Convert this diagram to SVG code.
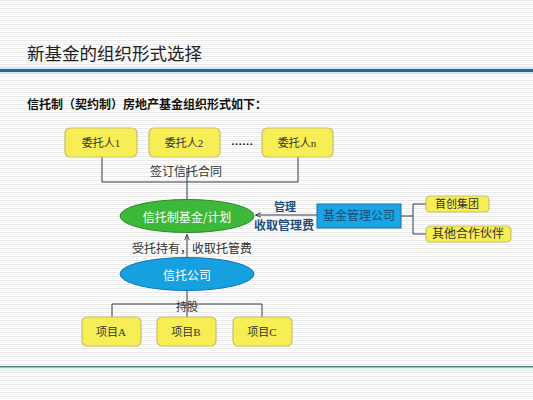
<svg xmlns="http://www.w3.org/2000/svg" width="533" height="400" viewBox="0 0 533 400">
<defs>
<pattern id="stripes" width="8" height="4" patternUnits="userSpaceOnUse">
<rect width="8" height="4" fill="#ffffff"/>
<rect y="0" width="8" height="1" fill="#e9e9e9"/>
<rect y="2" width="8" height="1" fill="#f4f4f4"/>
</pattern>
<marker id="arr" viewBox="0 0 10 10" refX="9" refY="5" markerWidth="6" markerHeight="6" orient="auto">
<path d="M0,1 L10,5 L0,9" fill="none" stroke="#333" stroke-width="1.5"/>
</marker>
</defs>
<style>
.ybox{fill:#f7ee55;stroke:#c9bf6a;stroke-width:1.2}
.t{font-family:"Liberation Serif","Noto Sans CJK SC",serif;font-size:11px;fill:#333;text-anchor:middle;dominant-baseline:central}
.t12{font-size:12px}
.w{font-family:"Noto Sans CJK SC",sans-serif;font-size:12px;fill:#ffffff;text-anchor:middle;dominant-baseline:central}
.ln{fill:none;stroke:#2f3a4a;stroke-width:1}
.lbl{font-family:"Noto Sans CJK SC",sans-serif;font-size:12px;fill:#1f4e79;font-weight:bold;text-anchor:middle;dominant-baseline:central}
</style>
<rect width="533" height="400" fill="url(#stripes)"/>
<text x="27" y="52" font-family="Noto Sans CJK SC, sans-serif" font-size="17.5" fill="#222" dominant-baseline="central">新基金的组织形式选择</text>
<rect x="0" y="67" width="533" height="7" fill="#cfe6f5"/>
<rect x="0" y="69" width="533" height="3" fill="#2d6590"/>
<text x="27" y="103" font-family="Noto Sans CJK SC, sans-serif" font-size="12" font-weight="bold" fill="#111" dominant-baseline="central">信托制（契约制）房地产基金组织形式如下：</text>
<rect x="0" y="366" width="533" height="1.5" fill="#4f7f78"/>
<rect x="0" y="368" width="533" height="3" fill="#e2f3ee"/>

<g id="connectors">
<polyline class="ln" points="102,157 102,182 298,182 298,157"/>
<line class="ln" x1="187" y1="168" x2="187" y2="200"/>
<line class="ln" x1="317" y1="215" x2="256" y2="215" marker-end="url(#arr)"/>
<line class="ln" x1="187" y1="258" x2="187" y2="235" marker-end="url(#arr)"/>
<polyline class="ln" points="401,216 413,216"/>
<polyline class="ln" points="426,204 413,204 413,234 426,234"/>
<line class="ln" x1="187" y1="290" x2="187" y2="317"/>
<polyline class="ln" points="112,317 112,304 262,304 262,317"/>
<text class="t t12" x="186" y="172">签订信托合同</text>
<text class="lbl" x="285" y="206" style="font-size:11px">管理</text>
<text class="lbl" x="284" y="224">收取管理费</text>
<text class="t t12" x="192" y="249">受托持有，收取托管费</text>
<text class="t" x="187" y="307">持股</text>
</g>

<g id="wt1"><rect class="ybox" x="65" y="128" width="72" height="29" rx="5"/><text class="t" x="101" y="143">委托人1</text></g>
<g id="wt2"><rect class="ybox" x="149" y="128" width="71" height="29" rx="5"/><text class="t" x="184" y="143">委托人2</text></g>
<g id="dots"><text class="t" x="242" y="141" style="fill:#111;font-weight:bold">……</text></g>
<g id="wtn"><rect class="ybox" x="262" y="128" width="71" height="29" rx="5"/><text class="t" x="297" y="143">委托人n</text></g>

<g id="fund"><ellipse cx="187" cy="216" rx="67" ry="16.5" fill="#3db83a" stroke="#2b8a2a" stroke-width="1"/><text class="w" x="187" y="216">信托制基金/计划</text></g>
<g id="mgr"><rect x="317" y="204" width="84" height="24" fill="#19a6e6" stroke="#1b6fa0" stroke-width="1"/><text class="t t12" x="359" y="216" style="fill:#1b4c73">基金管理公司</text></g>
<g id="sc"><rect class="ybox" x="426" y="196" width="63" height="16" rx="4"/><text class="t" x="457" y="204">首创集团</text></g>
<g id="qt"><rect class="ybox" x="426" y="226" width="85" height="16" rx="4"/><text class="t t12" x="468" y="234">其他合作伙伴</text></g>

<g id="trust"><ellipse cx="187" cy="274" rx="67" ry="16.5" fill="#17a0e0" stroke="#1577b0" stroke-width="1"/><text class="w" x="187" y="274">信托公司</text></g>

<g id="pa"><rect class="ybox" x="82" y="317" width="59" height="29" rx="5"/><text class="t" x="111" y="332">项目A</text></g>
<g id="pb"><rect class="ybox" x="157" y="317" width="59" height="29" rx="5"/><text class="t" x="186" y="332">项目B</text></g>
<g id="pc"><rect class="ybox" x="233" y="317" width="59" height="29" rx="5"/><text class="t" x="262" y="332">项目C</text></g>
</svg>
